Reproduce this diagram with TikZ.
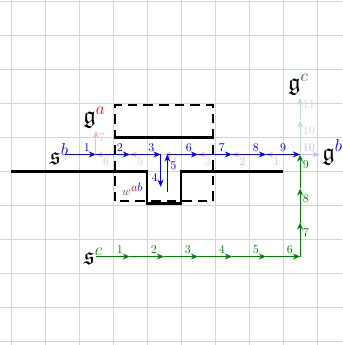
\documentclass[tikz,border=0pt]{standalone}
\usepackage{amsmath}
\usepackage{amsfonts}
\usepackage{amssymb}
\usepackage{tikz}
\usetikzlibrary{arrows.meta}
\colorlet{grn}{green!50!black}

\begin{document}
\begin{tikzpicture}
[big/.style={font=\huge,inner sep=2pt},
num/.style={inner sep=2pt},
mv/.style={thick,-{Stealth[length=6pt,width=5pt]}},
wall/.style={line width=2.2pt},
box/.style={line width=1.6pt,dash pattern=on 8pt off 5pt}]
\useasboundingbox (-0.32,-5.1) rectangle (9.74,5.04);
\clip (-0.32,-5.1) rectangle (9.74,5.04);
\draw[black!17,line width=0.6pt] (-1,-6) grid (11,6);
% walls and box
\draw[box] (3.07,-0.88) rectangle (5.93,1.95);
\draw[wall] (0,0) -- (4,0) -- (4,-0.95) -- (5,-0.95) -- (5,0) -- (8,0);
\draw[wall] (3.05,1) -- (5.95,1);
% labels
\node[big] (sb) at (1.42,0.5) {$\mathfrak{s}^{\color{blue}b}$};
\node[big] (ga) at (2.45,1.58) {$\mathfrak{g}^{\color{red}a}$};
\node[big] (gb) at (9.45,0.55) {$\mathfrak{g}^{\color{blue}b}$};
\node[big] (gc) at (8.45,2.55) {$\mathfrak{g}^{\color{grn}c}$};
\node[big] (sc) at (2.42,-2.5) {$\mathfrak{s}^{\color{grn}c}$};
\node (w) at (3.58,-0.52) {$\color{black!70}w^{\textstyle\color{red}a\color{blue}b}$};
% lattice points
\foreach \x in {2,...,8} {
\coordinate (m\x) at (\x+0.5,0.5);
\coordinate (l\x) at (\x+0.5,-2.5);
}
\coordinate (b0) at (1.6,0.5);
\coordinate (d1) at (4.4,0.5);
\coordinate (d2) at (4.4,-0.45);
\coordinate (d3) at (4.6,-0.6);
\coordinate (d4) at (4.6,0.5);
\coordinate (u1) at (8.5,-1.5);
\coordinate (u2) at (8.5,-0.5);
\coordinate (u3) at (8.5,1.5);
% red path
\foreach \a [count=\i] in {8,7,6,5,4,3} {
\pgfmathtruncatemacro\b{\a-1}
\draw[red!28,mv] (m\a) -- node[num,pos=0.7,below]{\i} (m\b);
}
\draw[red!28,mv] (m2) -- node[num,pos=0.7,right]{7} (m2 |- ga.south);
% blue path
\draw[blue,mv] (b0) -- node[num,pos=0.7,above]{1} (m2);
\draw[blue,mv] (m2) -- node[num,pos=0.7,above]{2} (m3);
\draw[blue,mv] (m3) -- node[num,pos=0.7,above]{3} (d1);
\draw[blue,mv] (d1) -- node[num,pos=0.7,left]{4} (d2);
\draw[blue,mv] (d3) -- node[num,pos=0.7,right]{5} (d4);
\draw[blue,mv] (d4) -- node[num,pos=0.7,above]{6} (m5);
\draw[blue,mv] (m5) -- node[num,pos=0.7,above]{7} (m6);
\draw[blue,mv] (m6) -- node[num,pos=0.7,above]{8} (m7);
\draw[blue,mv] (m7) -- node[num,pos=0.5,above]{9} (m8);
\draw[blue!25,mv] (m8) -- node[num,pos=0.45,above]{10} (m8 -| gb.west);
% green path
\foreach \a [count=\i] in {2,...,7} {
\pgfmathtruncatemacro\b{\a+1}
\draw[grn,mv] (l\a) -- node[num,pos=0.7,above]{\i} (l\b);
}
\draw[grn,mv] (l8) -- node[num,pos=0.7,right]{7} (u1);
\draw[grn,mv] (u1) -- node[num,pos=0.7,right]{8} (u2);
\draw[grn,mv] (u2) -- node[num,pos=0.7,right]{9} (m8);
\draw[grn!25,mv] (m8) -- node[num,pos=0.7,right]{10} (u3);
\draw[grn!25,mv] (u3) -- node[num,pos=0.7,right]{11} (u3 |- gc.south);
\end{tikzpicture}
\end{document}
